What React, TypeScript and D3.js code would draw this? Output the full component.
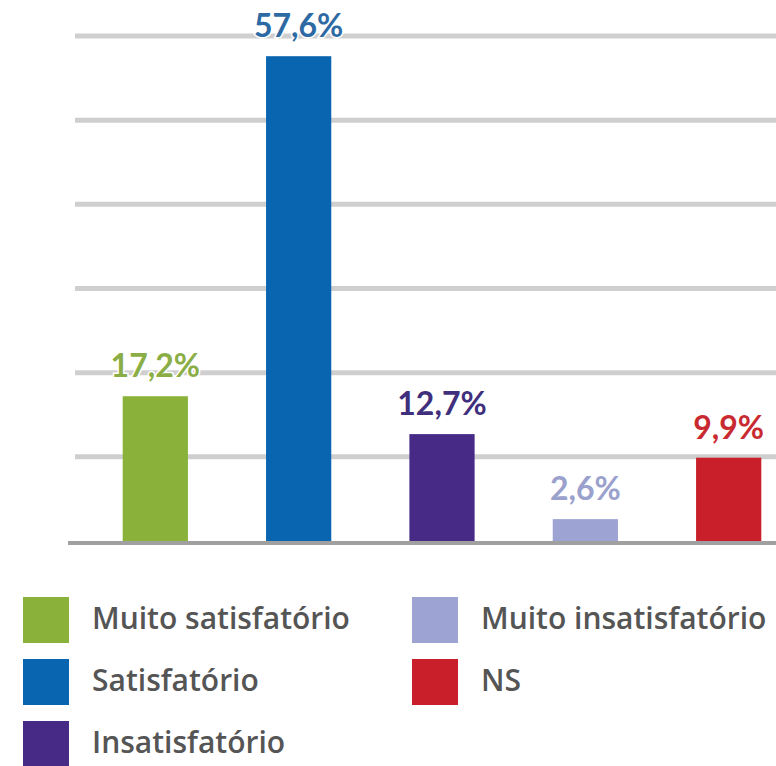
import React from "react";
import * as d3 from "d3";

const categories = ["Muito satisfatório", "Satisfatório", "Insatisfatório", "Muito insatisfatório", "NS"];
const values = [17.2, 57.6, 12.7, 2.6, 9.9];
const valueLabels = ["17,2%", "57,6%", "12,7%", "2,6%", "9,9%"];
const barColors = ["#8ab23a", "#0a65b1", "#462a86", "#9da4d3", "#c91f2a"];
const labelColors = ["#8aae45", "#2d6aa3", "#3f2f7c", "#9aa1cc", "#c92a30"];
const gridTicks = [10, 20, 30, 40, 50, 60];
const legendOrder = [0, 1, 2, 3, 4];

const W = 776;
const H = 766;

export default function App() {
  const x = d3.scaleBand<string>().domain(categories).range([84, 800]).paddingInner(0.545).paddingOuter(0.27);
  const y = d3.scaleLinear().domain([0, 60]).range([541, 36]);
  const labelFont = "Lato, 'Open Sans', sans-serif";
  const legendFont = "'Open Sans', Lato, sans-serif";

  return (
    <svg width={W} height={H} style={{ position: "absolute", left: 0, top: 0, background: "#fff" }}>
      {gridTicks.map((t) => (
        <line key={t} x1={75} x2={W} y1={y(t)} y2={y(t)} stroke="#cfcfcf" strokeWidth={5} />
      ))}
      {categories.map((c, i) => (
        <rect key={c} x={x(c)} y={y(values[i])} width={x.bandwidth()} height={y(0) - y(values[i])} fill={barColors[i]} />
      ))}
      <line x1={68} x2={W} y1={y(0) + 2} y2={y(0) + 2} stroke="#a0a0a0" strokeWidth={4} />
      {categories.map((c, i) => (
        <text
          key={c + "l"}
          x={(x(c) as number) + x.bandwidth() / 2}
          y={y(values[i]) - 19}
          textAnchor="middle"
          fontFamily={labelFont}
          fontWeight={700}
          fontSize={32}
          fill={labelColors[i]}
          stroke="#fff"
          strokeWidth={3}
          paintOrder="stroke"
        >
          {valueLabels[i]}
        </text>
      ))}
      {legendOrder.map((idx, k) => {
        const col = k < 3 ? 0 : 1;
        const row = k < 3 ? k : k - 3;
        const lx = col === 0 ? 23 : 412;
        const ly = 597 + row * 62;
        return (
          <g key={"lg" + idx}>
            <rect x={lx} y={ly} width={46} height={46} fill={barColors[idx]} />
            <text x={lx + 69} y={ly + 32} fontFamily={legendFont} fontWeight={600} fontSize={30} fill="#555">
              {categories[idx]}
            </text>
          </g>
        );
      })}
    </svg>
  );
}
